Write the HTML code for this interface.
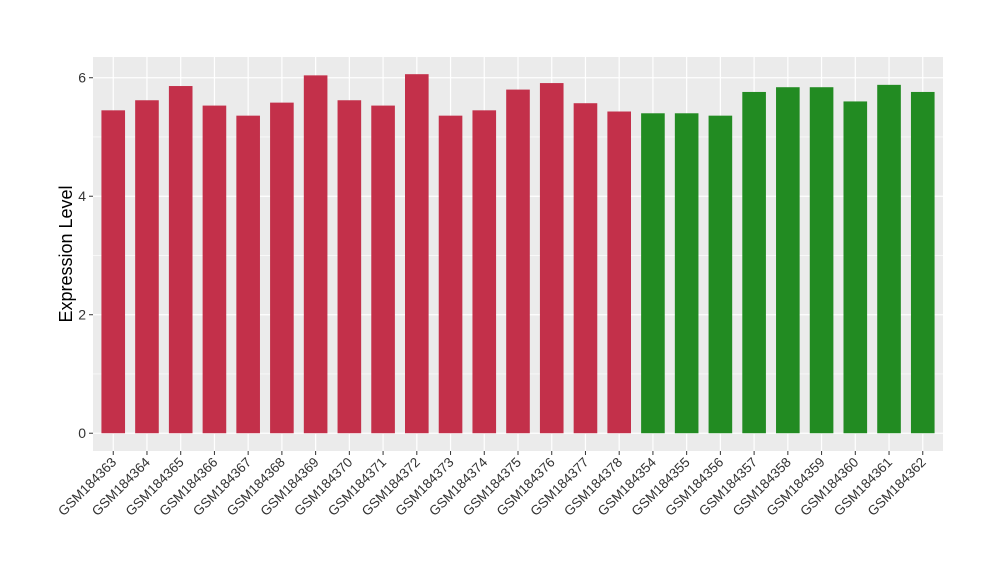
<!DOCTYPE html>
<html><head><meta charset="utf-8"><style>body{margin:0;background:#fff}svg{display:block;font-family:"Liberation Sans",Arial,sans-serif}</style></head>
<body>
<svg id="chart" width="1000" height="580" xmlns="http://www.w3.org/2000/svg"></svg>
<script>
const categories=["GSM184363","GSM184364","GSM184365","GSM184366","GSM184367","GSM184368","GSM184369","GSM184370","GSM184371","GSM184372","GSM184373","GSM184374","GSM184375","GSM184376","GSM184377","GSM184378","GSM184354","GSM184355","GSM184356","GSM184357","GSM184358","GSM184359","GSM184360","GSM184361","GSM184362"];
const values=[5.45,5.62,5.86,5.53,5.36,5.58,6.04,5.62,5.53,6.06,5.36,5.45,5.80,5.91,5.57,5.43,5.40,5.40,5.36,5.76,5.84,5.84,5.60,5.88,5.76];
const groups=["a","a","a","a","a","a","a","a","a","a","a","a","a","a","a","a","b","b","b","b","b","b","b","b","b"];
const yTicks=[0,2,4,6];
const colors={a:"#C3304A",b:"#228B22"};
const NS="http://www.w3.org/2000/svg";
const svg=document.getElementById('chart');
const L=93,R=943,T=57,B=451,yMin=-0.3,yMax=6.35;
const n=categories.length;
const xs=i=>L+(i+1-0.4)/(n+0.2)*(R-L);
const bw=0.7*(R-L)/(n+0.2);
const ys=v=>B-(v-yMin)/(yMax-yMin)*(B-T);
function mk(t,a){const e=document.createElementNS(NS,t);for(const k in a)e.setAttribute(k,a[k]);svg.appendChild(e);return e;}
let p=mk('rect',{x:L,y:T,width:R-L,height:B-T,fill:'#EBEBEB'});


for(let k=0;k<yTicks.length;k++){
 const v=yTicks[k];
 if(k<yTicks.length-1){const m=(v+yTicks[k+1])/2;const g=mk('line',{x1:L,x2:R,y1:ys(m),y2:ys(m),stroke:'#fff','stroke-width':0.6});}
 const g=mk('line',{x1:L,x2:R,y1:ys(v),y2:ys(v),stroke:'#fff','stroke-width':1.2});
 
 
 const tk=mk('line',{x1:L-4,x2:L,y1:ys(v),y2:ys(v),stroke:'#333','stroke-width':1});
 
 
 const t=mk('text',{x:L-7,y:ys(v)+5,'text-anchor':'end','font-size':14,fill:'#333'});
 t.textContent=v;
 
 
}
for(let i=0;i<n;i++){
 const g=mk('line',{x1:xs(i),x2:xs(i),y1:T,y2:B,stroke:'#fff','stroke-width':1.2});
 
 
}
for(let i=0;i<n;i++){
 const r=mk('rect',{x:xs(i)-bw/2,y:ys(values[i]),width:bw,height:ys(0)-ys(values[i]),fill:colors[groups[i]]});
 
 
 const tk=mk('line',{x1:xs(i),x2:xs(i),y1:B,y2:B+4,stroke:'#333','stroke-width':1});
 
 
 const t=mk('text',{x:xs(i)+4,y:B+12,'text-anchor':'end','font-size':13.5,fill:'#333',transform:`rotate(-45 ${xs(i)+4} ${B+12})`});
 t.textContent=categories[i];
 
 
}
const yt=mk('text',{x:72,y:(T+B)/2,'text-anchor':'middle','font-size':18,fill:'#000',transform:`rotate(-90 72 ${(T+B)/2})`});
yt.textContent='Expression Level';


</script>
</body></html>
